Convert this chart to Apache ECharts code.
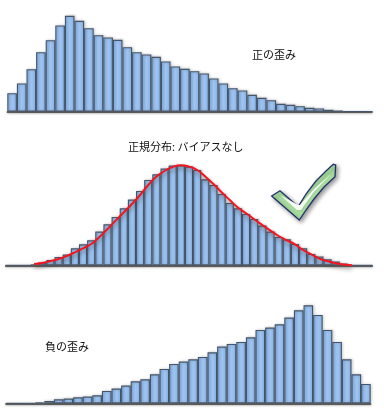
<!DOCTYPE html>
<html>
<head>
<meta charset="utf-8">
<style>
  html,body{margin:0;padding:0;background:#fff;}
  #chart{width:384px;height:413px;}
</style>
<script src="https://cdn.jsdelivr.net/npm/echarts@6/dist/echarts.min.js"></script>
</head>
<body>
<div id="chart"></div>
<script>
  // bar heights
  var positiveBars = [18.3,28,42.3,59.3,71.3,86,95.7,90.7,83.3,76.3,74,71.7,64.3,59.3,57,54.7,50,45,42.7,40.3,38,33,28,23.3,21,16.7,13.7,11.3,7.7,6.7,5.3,3.7,3,1.7,0.7,0,0,0];
  var normalBars = [0,0,0,1,2.7,5.3,8.3,10.7,17,21,25,33.7,41,48.3,57,65.7,74.3,85.3,91,96.7,99.7,100,98.7,95.3,86,80.3,71.3,62.3,57,51.3,46.3,39.7,33.7,28.3,26,21.3,17,11.3,8.7,6,3.7,1.7,0,0,0];
  var normalCurve = [null,null,null,1.3,2.3,4.3,6.3,9.3,13,17,21.3,28.3,36.3,44.7,53,61.3,70.3,80.3,88.7,94.3,98.3,100,98.7,95.3,88.7,81.3,73,65.3,57.7,52,46,40.3,34.7,29.3,25,21,15.3,11,6.7,4,2,0.7,0,null,null];
  var negativeBars = [0,0,0,1,2.3,4,4.7,6,6.7,8,12.3,14.7,17.7,22,24,29,34.3,39.3,41.7,44,46.3,51,56.7,59.3,61.3,66,73.3,75.7,79,85.7,93,98,88.3,73.3,61.3,44,29,19.3];

  var positiveLabel = '正の歪み';
  var normalLabel = '正規分布: バイアスなし';
  var negativeLabel = '負の歪み';

  function indexes(list){
    return list.map(function(v,i){ return i; });
  }

  function xAxis(list,gridIndex){
    return {
      type:'category',
      gridIndex:gridIndex,
      data:indexes(list),
      axisLabel:{show:false},
      axisTick:{show:false},
      axisLine:{lineStyle:{color:'#3a3a3a',width:1.5,shadowColor:'rgba(0,0,0,0.3)',shadowBlur:2,shadowOffsetY:1}}
    };
  }

  function yAxis(gridIndex){
    return {
      type:'value',
      gridIndex:gridIndex,
      min:0,
      max:100,
      show:false,
      splitLine:{show:false}
    };
  }

  function barSeries(list,axisIndex){
    return {
      type:'bar',
      xAxisIndex:axisIndex,
      yAxisIndex:axisIndex,
      data:list,
      barWidth:'100%',
      barGap:'0%',
      silent:true,
      itemStyle:{
        color:new echarts.graphic.LinearGradient(0,0,1,0,[
          {offset:0,color:'#86b2e8'},
          {offset:0.5,color:'#a0c5f1'},
          {offset:1,color:'#88b4e9'}
        ]),
        borderColor:'#46566a',
        borderWidth:1.1,
        shadowColor:'rgba(0,0,0,0.22)',
        shadowBlur:3,
        shadowOffsetX:1,
        shadowOffsetY:0
      }
    };
  }

  function label(text,x,y){
    return {
      type:'text',
      left:x,
      top:y,
      style:{text:text,font:'11px "Noto Sans CJK JP"',fill:'#111'}
    };
  }

  var chart = echarts.init(document.getElementById('chart'));

  var option = {
    animation:false,
    backgroundColor:'#fff',
    grid:[
      {left:7.3,top:11.5,width:364.8,height:100},
      {left:5.6,top:165.3,width:366.8,height:100},
      {left:5.9,top:303.3,width:364.8,height:100}
    ],
    xAxis:[xAxis(positiveBars,0),xAxis(normalBars,1),xAxis(negativeBars,2)],
    yAxis:[yAxis(0),yAxis(1),yAxis(2)],
    series:[
      barSeries(positiveBars,0),
      barSeries(normalBars,1),
      {
        type:'line',
        xAxisIndex:1,
        yAxisIndex:1,
        data:normalCurve,
        smooth:0.5,
        clip:false,
        showSymbol:false,
        silent:true,
        lineStyle:{color:'#f5141e',width:2,shadowColor:'rgba(70,70,70,0.6)',shadowBlur:4,shadowOffsetY:3}
      },
      barSeries(negativeBars,2)
    ],
    graphic:[
      label(positiveLabel,252,49),
      label(normalLabel,128,141),
      label(negativeLabel,45,341),
      {
        // check mark, outer shape
        type:'polygon',
        shape:{
          points:[[271.7,196],[280,190.7],[298.3,206.7],[306,194],[316,181],[326,171],[333.3,164.3],[335.7,165],[335,176.7],[324,187],[314,199],[306,210],[299.3,220]]
        },
        style:{
          fill:'#a9dfa0',
          stroke:'#23306e',
          lineWidth:1.3,
          shadowColor:'rgba(0,0,0,0.4)',
          shadowBlur:4,
          shadowOffsetX:2,
          shadowOffsetY:2
        }
      },
      {
        // pale highlight inside the check mark
        type:'polygon',
        shape:{
          points:[[280,195],[297,210],[301,210],[313,193],[331,174],[314,189],[300,205],[298,205]]
        },
        style:{fill:'#f6fcf4'}
      }
    ]
  };

  chart.setOption(option);
</script>
</body>
</html>
